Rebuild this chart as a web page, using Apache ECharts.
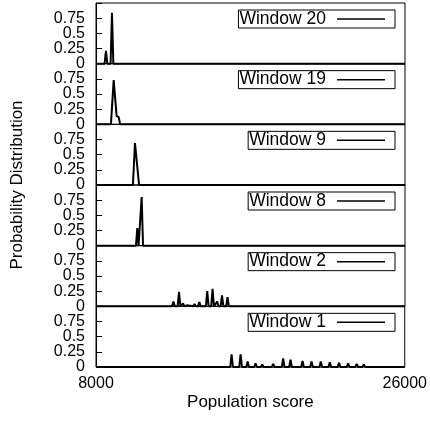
<!DOCTYPE html>
<html>
<head>
<meta charset="utf-8">
<script src="https://cdn.jsdelivr.net/npm/echarts@6/dist/echarts.min.js"></script>
<style>
  html, body { margin: 0; padding: 0; background: #fff; }
  #chart { width: 430px; height: 423px; }
</style>
</head>
<body>
<div id="chart"></div>
<script>
// panel order top to bottom
const windowNames = ['Window 20', 'Window 19', 'Window 9', 'Window 8', 'Window 2', 'Window 1']

// [population score, probability]
const window20 = [[8000, 0], [8500, 0], [8580, 0.21], [8660, 0], [8850, 0], [8930, 0.84], [9010, 0], [26000, 0]]
const window19 = [[8000, 0], [8870, 0], [9030, 0.73], [9200, 0.14], [9320, 0.12], [9410, 0], [26000, 0]]
const window9 = [[8000, 0], [10150, 0], [10270, 0.69], [10510, 0], [26000, 0]]
const window8 = [[8000, 0], [10330, 0], [10405, 0.29], [10480, 0], [10580, 0], [10660, 0.80], [10740, 0], [26000, 0]]
const window2 = [
  [8000, 0], [12430, 0], [12510, 0.08], [12590, 0], [12755, 0], [12835, 0.24], [12915, 0],
  [12990, 0], [13070, 0.05], [13150, 0], [13240, 0], [13320, 0.02], [13400, 0],
  [13660, 0], [13740, 0.04], [13820, 0], [13940, 0], [14020, 0.07], [14100, 0],
  [14400, 0], [14480, 0.25], [14560, 0], [14710, 0], [14790, 0.29], [14870, 0],
  [14980, 0], [15060, 0.08], [15140, 0], [15260, 0], [15340, 0.18], [15420, 0],
  [15580, 0], [15660, 0.15], [15740, 0], [26000, 0]
]
const window1 = [
  [8000, 0], [15825, 0], [15905, 0.21], [15985, 0], [16350, 0], [16430, 0.21], [16510, 0],
  [16760, 0], [16840, 0.09], [16920, 0], [17220, 0], [17300, 0.06], [17380, 0],
  [17610, 0], [17690, 0.04], [17770, 0], [18250, 0], [18330, 0.05], [18410, 0],
  [18830, 0], [18910, 0.14], [18990, 0], [19260, 0], [19340, 0.12], [19420, 0],
  [19960, 0], [20040, 0.10], [20120, 0], [20485, 0], [20565, 0.09], [20645, 0],
  [21025, 0], [21105, 0.09], [21185, 0], [21550, 0], [21630, 0.08], [21710, 0],
  [22090, 0], [22170, 0.07], [22250, 0], [22620, 0], [22700, 0.06], [22780, 0],
  [23120, 0], [23200, 0.05], [23280, 0], [23530, 0], [23610, 0.04], [23690, 0],
  [23940, 0], [24020, 0.03], [24100, 0], [24460, 0], [24540, 0.02], [24620, 0],
  [26000, 0]
]
const windowData = [window20, window19, window9, window8, window2, window1]

const xMin = 8000
const xMax = 26000
const yTicks = [0.25, 0.5, 0.75]

const font = 'Liberation Sans, Arial, sans-serif'
const panelTop = 3
const panelHeight = 60.667
const last = windowNames.length - 1

const chart = echarts.init(document.getElementById('chart'))

const grids = []
const xAxes = []
const yAxes = []
const legends = []
const series = []

const tickLabel = { color: '#000', fontSize: 16, fontFamily: font, margin: 11 }

windowNames.forEach((name, i) => {
  const top = panelTop + i * panelHeight
  grids.push({
    left: 96,
    right: 25,
    top: top,
    height: panelHeight,
    show: true,
    borderColor: '#000',
    borderWidth: 1
  })
  xAxes.push({
    type: 'value',
    gridIndex: i,
    min: xMin,
    max: xMax,
    interval: 2000,
    axisLine: { show: false },
    axisTick: { show: false },
    splitLine: { show: false },
    axisLabel: {
      ...tickLabel,
      show: i === last,
      margin: 9,
      showMinLabel: true,
      showMaxLabel: true,
      formatter(v) {
        return v === xMin || v === xMax ? String(v) : ''
      }
    },
    name: i === last ? 'Population score' : '',
    nameLocation: 'middle',
    nameGap: 27,
    nameTextStyle: { color: '#000', fontSize: 17, fontFamily: font }
  })
  // ticks and the 0.25 / 0.5 / 0.75 labels
  yAxes.push({
    type: 'value',
    gridIndex: i,
    min: 0,
    max: 1,
    interval: 0.25,
    axisLine: { show: true, lineStyle: { color: '#000', width: 1 } },
    axisTick: { show: true, inside: true, length: 6, lineStyle: { color: '#000' } },
    splitLine: { show: false },
    axisLabel: {
      ...tickLabel,
      showMinLabel: false,
      formatter(v) {
        return yTicks.includes(v) ? String(v) : ''
      }
    }
  })
  // the 0 label on its own axis so it is not dropped for overlapping 0.25
  yAxes.push({
    type: 'value',
    gridIndex: i,
    position: 'left',
    min: 0,
    max: 1,
    interval: 1,
    axisLine: { show: false },
    axisTick: { show: false },
    splitLine: { show: false },
    axisLabel: {
      ...tickLabel,
      showMinLabel: true,
      formatter(v) {
        return v === 0 ? '0' : ''
      }
    }
  })
  legends.push({
    data: [name],
    right: 35,
    top: top + 7,
    selectedMode: false,
    align: 'right',
    icon: 'rect',
    itemWidth: 48,
    itemHeight: 1.5,
    borderColor: '#000',
    borderWidth: 1,
    borderRadius: 0,
    padding: [0, 10, 0, 1],
    textStyle: { color: '#000', fontSize: 17.5, fontFamily: font, padding: [0, 6, 0, 0] }
  })
  series.push({
    name: name,
    type: 'line',
    xAxisIndex: i,
    yAxisIndex: 2 * i,
    data: windowData[i],
    symbol: 'none',
    clip: false,
    color: '#000',
    lineStyle: { color: '#000', width: 2 }
  })
})

chart.setOption({
  animation: false,
  backgroundColor: '#fff',
  grid: grids,
  xAxis: xAxes,
  yAxis: yAxes,
  legend: legends,
  series: series,
  graphic: [{
    type: 'text',
    x: 17,
    y: 185,
    rotation: Math.PI / 2,
    style: {
      text: 'Probability Distribution',
      fill: '#000',
      fontSize: 17,
      fontFamily: font,
      align: 'center',
      verticalAlign: 'middle'
    }
  }]
})
</script>
</body>
</html>
